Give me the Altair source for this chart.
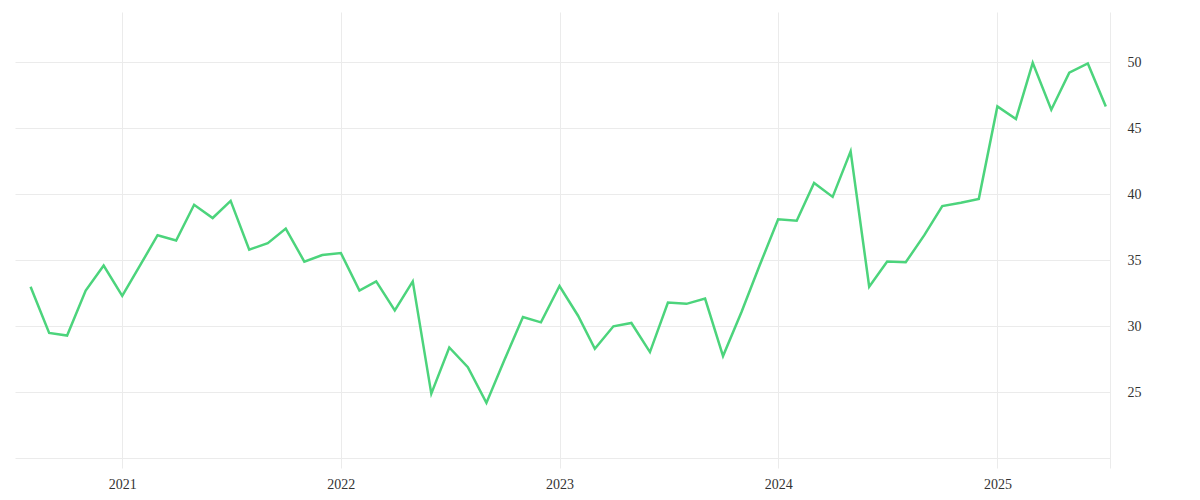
import altair as alt
import pandas as pd

months = [
    "2020-08-01", "2020-09-01", "2020-10-01", "2020-11-01", "2020-12-01",
    "2021-01-01", "2021-02-01", "2021-03-01", "2021-04-01", "2021-05-01", "2021-06-01",
    "2021-07-01", "2021-08-01", "2021-09-01", "2021-10-01", "2021-11-01", "2021-12-01",
    "2022-01-01", "2022-02-01", "2022-03-01", "2022-04-01", "2022-05-01", "2022-06-01",
    "2022-07-01", "2022-08-01", "2022-09-01", "2022-10-01", "2022-11-01", "2022-12-01",
    "2023-01-01", "2023-02-01", "2023-03-01", "2023-04-01", "2023-05-01", "2023-06-01",
    "2023-07-01", "2023-08-01", "2023-09-01", "2023-10-01", "2023-11-01", "2023-12-01",
    "2024-01-01", "2024-02-01", "2024-03-01", "2024-04-01", "2024-05-01", "2024-06-01",
    "2024-07-01", "2024-08-01", "2024-09-01", "2024-10-01", "2024-11-01", "2024-12-01",
    "2025-01-01", "2025-02-01", "2025-03-01", "2025-04-01", "2025-05-01", "2025-06-01",
    "2025-07-01",
]

values = [
    33.0, 29.5, 29.3, 32.7, 34.6,
    32.3, 34.7, 36.9, 36.5, 39.2, 38.2, 39.5, 35.8, 36.3, 37.4, 34.9, 35.4,
    35.55, 32.7, 33.4, 31.2, 33.4, 24.9, 28.4, 26.9, 24.2, 27.45, 30.7, 30.3,
    33.05, 30.8, 28.3, 30.0, 30.25, 28.05, 31.8, 31.7, 32.1, 27.75, 31.1, 34.6,
    38.1, 38.0, 40.85, 39.8, 43.25, 33.0, 34.9, 34.85, 36.9, 39.1, 39.35, 39.65,
    46.65, 45.7, 49.95, 46.4, 49.2, 49.9, 46.65,
]

y_ticks = [20, 25, 30, 35, 40, 45, 50]

df = pd.DataFrame({"date": months, "value": values})

FONT = "Liberation Serif"
GRID = "#ebebeb"

chart = (
    alt.Chart(df)
    .mark_line(color="#4cd47c", strokeWidth=2.5)
    .encode(
        x=alt.X(
            "date:T",
            title=None,
            scale=alt.Scale(
                domain=[
                    alt.DateTime(year=2020, month=7, date=6),
                    alt.DateTime(year=2025, month=7, date=8),
                ]
            ),
            axis=alt.Axis(
                format="%Y",
                tickCount="year",
                grid=True,
                gridColor=GRID,
                domain=False,
                ticks=False,
                labelPadding=9,
                labelFont=FONT,
                labelFontSize=14,
                labelColor="#333333",
            ),
        ),
        y=alt.Y(
            "value:Q",
            title=None,
            scale=alt.Scale(domain=[19.27, 53.8], nice=False, zero=False),
            axis=alt.Axis(
                orient="right",
                values=y_ticks,
                labelExpr="datum.value == 20 ? '' : datum.label",
                grid=True,
                gridColor=GRID,
                domain=True,
                domainColor=GRID,
                ticks=False,
                labelPadding=17,
                labelFont=FONT,
                labelFontSize=14,
                labelColor="#333333",
            ),
        ),
    )
    .properties(
        width=1095,
        height=456,
        padding={"left": 7, "top": 4, "right": 5, "bottom": 5},
    )
    .configure_view(stroke=None)
)

chart.save("out.html", embed_options={"renderer": "svg", "actions": False})
